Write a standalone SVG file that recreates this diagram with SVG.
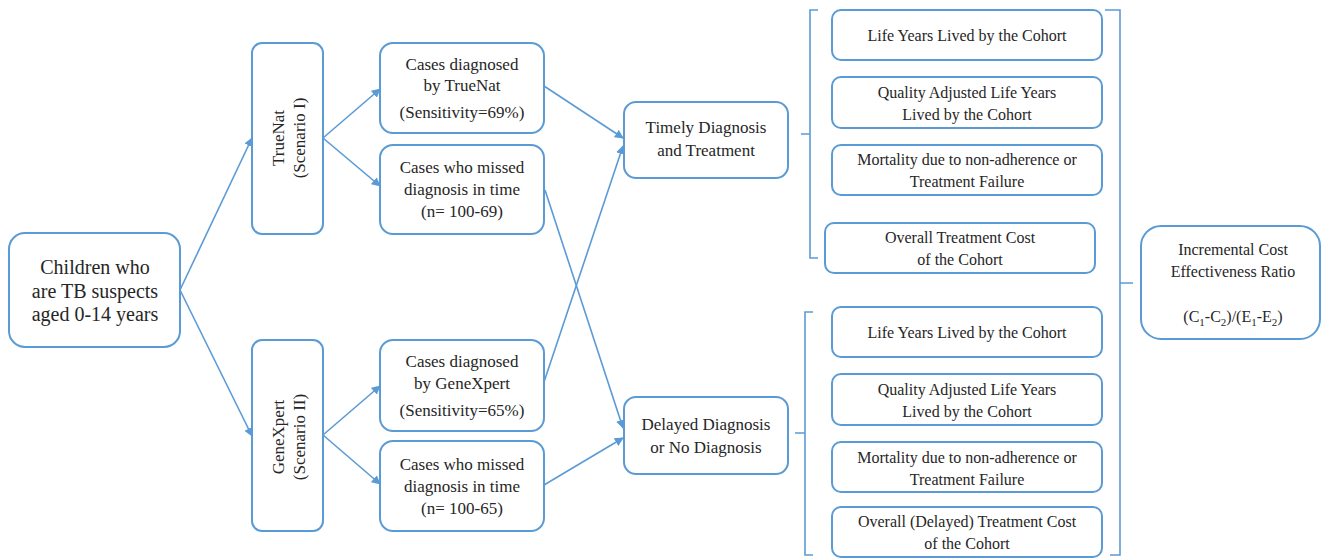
<svg xmlns="http://www.w3.org/2000/svg" width="1323" height="558" viewBox="0 0 1323 558">
<style>
.box{fill:#fff;stroke:#5B9BD5;stroke-width:2}
.t{font-family:"Liberation Serif","Times New Roman",serif;font-size:17px;fill:#262626;text-anchor:middle}
.s{font-size:16px}
.r{font-size:20px}
.c{fill:none;stroke:#5B9BD5;stroke-width:1.6}
.b{fill:none;stroke:#5B9BD5;stroke-width:1.6}
</style>
<defs>
<marker id="ah" viewBox="0 0 10 10" refX="9" refY="5" markerWidth="9" markerHeight="9" markerUnits="userSpaceOnUse" orient="auto">
<path d="M0,0 L10,5 L0,10 z" fill="#5B9BD5"/>
</marker>
</defs>
<rect width="1323" height="558" fill="#fff"/>

<g id="connectors">
<line class="c" x1="180" y1="290" x2="252" y2="138" marker-end="url(#ah)"/>
<line class="c" x1="180" y1="290" x2="252" y2="436" marker-end="url(#ah)"/>
<line class="c" x1="323" y1="138" x2="380" y2="89" marker-end="url(#ah)"/>
<line class="c" x1="323" y1="138" x2="380" y2="186" marker-end="url(#ah)"/>
<line class="c" x1="323" y1="435" x2="380" y2="386" marker-end="url(#ah)"/>
<line class="c" x1="323" y1="435" x2="380" y2="484" marker-end="url(#ah)"/>
<line class="c" x1="544" y1="86" x2="623" y2="138" marker-end="url(#ah)"/>
<line class="c" x1="545" y1="190" x2="623" y2="428" marker-end="url(#ah)"/>
<line class="c" x1="544" y1="382" x2="623" y2="146" marker-end="url(#ah)"/>
<line class="c" x1="544" y1="485" x2="623" y2="438" marker-end="url(#ah)"/>
<path class="b" d="M818,10 H810 V258 H818 M810,134 H801"/>
<path class="b" d="M813,312 H805 V555 H813 M805,433 H795"/>
<path class="b" d="M1105,10 H1120 V555 H1110 M1120,283 H1133"/>
</g>

<g id="root">
<rect class="box" x="9" y="233" width="171" height="114" rx="16"/>
<text class="t r" x="95" y="274">Children who</text>
<text class="t r" x="95" y="298">are TB suspects</text>
<text class="t r" x="95" y="321">aged 0-14 years</text>
</g>

<g id="truenat">
<rect class="box" x="252" y="43" width="71" height="191" rx="10"/>
<text class="t" transform="translate(284,138) rotate(-90)">TrueNat</text>
<text class="t" transform="translate(305,138) rotate(-90)">(Scenario I)</text>
</g>

<g id="genexpert">
<rect class="box" x="252" y="340" width="71" height="191" rx="10"/>
<text class="t" transform="translate(284,437) rotate(-90)">GeneXpert</text>
<text class="t" transform="translate(305,437) rotate(-90)">(Scenario II)</text>
</g>

<g id="tn-diag">
<rect class="box" x="380" y="43" width="164" height="90" rx="13"/>
<text class="t" x="462" y="70">Cases diagnosed</text>
<text class="t" x="462" y="91">by TrueNat</text>
<text class="t" x="462" y="118">(Sensitivity=69%)</text>
</g>

<g id="tn-miss">
<rect class="box" x="380" y="145" width="164" height="89" rx="13"/>
<text class="t" x="462" y="173">Cases who missed</text>
<text class="t" x="462" y="195">diagnosis in time</text>
<text class="t" x="462" y="217">(n= 100-69)</text>
</g>

<g id="gx-diag">
<rect class="box" x="380" y="340" width="164" height="91" rx="13"/>
<text class="t" x="462" y="367">Cases diagnosed</text>
<text class="t" x="462" y="389">by GeneXpert</text>
<text class="t" x="462" y="416">(Sensitivity=65%)</text>
</g>

<g id="gx-miss">
<rect class="box" x="380" y="441" width="164" height="90" rx="13"/>
<text class="t" x="462" y="470">Cases who missed</text>
<text class="t" x="462" y="492">diagnosis in time</text>
<text class="t" x="462" y="514">(n= 100-65)</text>
</g>

<g id="timely">
<rect class="box" x="624" y="102" width="164" height="76" rx="12"/>
<text class="t" x="706" y="133">Timely  Diagnosis</text>
<text class="t" x="706" y="156">and Treatment</text>
</g>

<g id="delayed">
<rect class="box" x="624" y="397" width="164" height="77" rx="12"/>
<text class="t" x="706" y="430">Delayed Diagnosis</text>
<text class="t" x="706" y="453">or No Diagnosis</text>
</g>

<g id="t-ly">
<rect class="box" x="832" y="10" width="270" height="50" rx="9"/>
<text class="t s" x="967" y="41">Life Years Lived by the Cohort</text>
</g>
<g id="t-qaly">
<rect class="box" x="832" y="77" width="270" height="51" rx="9"/>
<text class="t s" x="967" y="98">Quality Adjusted Life Years</text>
<text class="t s" x="967" y="120">Lived by the Cohort</text>
</g>
<g id="t-mort">
<rect class="box" x="832" y="145" width="270" height="50" rx="9"/>
<text class="t s" x="967" y="165">Mortality due to non-adherence or</text>
<text class="t s" x="967" y="187">Treatment Failure</text>
</g>
<g id="t-cost">
<rect class="box" x="825" y="223" width="270" height="50" rx="9"/>
<text class="t s" x="960" y="243">Overall Treatment Cost</text>
<text class="t s" x="960" y="265">of the Cohort</text>
</g>

<g id="d-ly">
<rect class="box" x="832" y="307" width="270" height="50" rx="9"/>
<text class="t s" x="967" y="338">Life Years Lived by the Cohort</text>
</g>
<g id="d-qaly">
<rect class="box" x="832" y="374" width="270" height="51" rx="9"/>
<text class="t s" x="967" y="395">Quality Adjusted Life Years</text>
<text class="t s" x="967" y="417">Lived by the Cohort</text>
</g>
<g id="d-mort">
<rect class="box" x="832" y="442" width="270" height="50" rx="9"/>
<text class="t s" x="967" y="463">Mortality due to non-adherence or</text>
<text class="t s" x="967" y="485">Treatment Failure</text>
</g>
<g id="d-cost">
<rect class="box" x="832" y="507" width="270" height="50" rx="9"/>
<text class="t s" x="967" y="527">Overall (Delayed) Treatment Cost</text>
<text class="t s" x="967" y="549">of the Cohort</text>
</g>

<g id="icer">
<rect class="box" x="1141" y="226" width="179" height="113" rx="20"/>
<text class="t s" x="1233" y="255">Incremental Cost</text>
<text class="t s" x="1233" y="277">Effectiveness Ratio</text>
<text class="t s" x="1233" y="322">(C<tspan font-size="11" dy="4">1</tspan><tspan dy="-4">-C</tspan><tspan font-size="11" dy="4">2</tspan><tspan dy="-4">)/(E</tspan><tspan font-size="11" dy="4">1</tspan><tspan dy="-4">-E</tspan><tspan font-size="11" dy="4">2</tspan><tspan dy="-4">)</tspan></text>
</g>
</svg>
